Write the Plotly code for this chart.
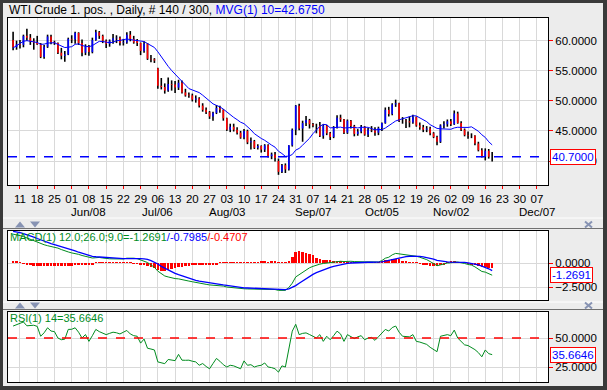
import plotly.graph_objects as go
import pandas as pd

W, H = 607, 390

# ---------------- data ----------------
opens = [60.1, 58.9, 59.4, 59.3, 60.8, 60.5, 59.9, 59.7, 59.4, 57.3,
         59.0, 60.7, 59.7, 59.6, 58.0, 57.5, 57.7, 60.3, 60.2, 61.3,
         59.6, 58.0, 59.1, 58.1, 60.1, 61.4, 60.8, 60.0, 59.5, 60.0,
         60.4, 60.5, 59.6, 59.7, 61.0, 60.3, 60.0, 59.6, 58.3, 59.5,
         57.0, 56.9, 55.4, 52.5, 52.3, 51.7, 52.8, 52.7, 52.2, 53.0,
         51.4, 51.0, 50.9, 50.2, 50.4, 49.2, 48.5, 48.1, 47.4, 48.0,
         48.8, 48.5, 47.1, 45.2, 45.7, 45.2, 44.7, 43.9, 45.0, 43.1,
         43.3, 42.2, 42.5, 41.9, 42.6, 40.8, 41.1, 40.0, 38.2, 39.3,
         38.6, 42.6, 45.2, 49.2, 45.4, 46.3, 46.8, 46.1, 45.9, 45.9,
         44.2, 45.9, 44.6, 44.0, 45.6, 47.2, 46.9, 44.7, 46.7, 45.8,
         44.5, 44.9, 45.7, 44.4, 45.2, 45.1, 44.7, 45.5, 46.3, 48.5,
         47.8, 49.4, 49.6, 46.7, 46.7, 46.6, 46.4, 47.3, 45.9, 45.6,
         45.2, 45.4, 44.6, 44.0, 43.2, 45.9, 46.1, 46.6, 46.1, 47.9,
         46.3, 45.2, 44.3, 44.2, 44.2, 42.9, 41.8, 40.7, 41.7, 40.7]
highs = [61.5, 60.0, 60.1, 61.0, 62.0, 61.1, 60.4, 60.8, 59.6, 59.3,
         61.0, 61.0, 60.0, 59.7, 58.8, 58.3, 60.5, 60.9, 61.5, 61.4,
         60.2, 59.4, 59.3, 60.5, 61.8, 61.6, 61.0, 60.2, 60.2, 61.1,
         60.9, 60.7, 60.3, 61.4, 61.6, 60.8, 60.3, 59.7, 59.9, 59.6,
         57.6, 57.1, 55.5, 53.8, 52.9, 53.9, 53.4, 53.3, 53.5, 53.4,
         52.0, 51.4, 51.2, 50.9, 50.6, 49.6, 48.9, 48.3, 48.2, 49.3,
         49.2, 48.6, 47.2, 46.2, 46.2, 45.6, 45.0, 45.3, 45.2, 43.9,
         43.5, 42.8, 42.6, 42.8, 42.8, 41.4, 41.5, 40.4, 39.5, 39.6,
         42.6, 45.4, 49.3, 49.5, 46.7, 47.5, 47.0, 46.3, 46.2, 46.5,
         46.1, 46.0, 44.8, 45.8, 47.6, 47.7, 47.0, 46.9, 46.8, 46.0,
         45.3, 46.0, 45.8, 45.5, 45.8, 45.6, 45.7, 46.4, 48.9, 49.0,
         49.6, 50.2, 49.7, 47.3, 47.0, 47.4, 47.7, 47.4, 46.4, 46.0,
         45.8, 45.7, 44.8, 44.2, 46.1, 46.6, 46.9, 47.0, 48.4, 48.2,
         46.6, 45.4, 44.9, 44.6, 44.3, 43.2, 42.1, 42.1, 42.0, 41.5]
lows = [58.4, 58.5, 58.7, 58.9, 60.0, 59.3, 58.5, 59.3, 57.1, 57.0,
        58.8, 59.4, 59.3, 57.8, 56.9, 56.5, 57.6, 59.6, 59.5, 59.3,
        57.4, 57.6, 57.5, 57.9, 60.0, 60.3, 59.6, 58.8, 59.0, 59.5,
        59.6, 59.2, 59.2, 59.5, 59.9, 59.5, 59.1, 57.6, 58.0, 56.8,
        56.4, 56.3, 52.0, 51.9, 51.2, 51.5, 51.7, 51.3, 51.8, 51.2,
        50.7, 50.5, 49.9, 49.7, 48.9, 48.2, 47.8, 47.0, 46.7, 47.8,
        48.0, 46.7, 45.0, 44.8, 44.9, 44.4, 43.7, 43.6, 42.8, 41.9,
        42.0, 41.9, 41.4, 41.5, 40.6, 40.3, 39.9, 37.7, 38.0, 38.0,
        38.4, 42.4, 44.3, 45.1, 43.2, 45.8, 45.4, 45.6, 44.6, 44.0,
        43.7, 44.3, 43.5, 43.8, 45.4, 46.5, 44.5, 44.5, 45.4, 44.1,
        44.2, 44.6, 44.2, 44.0, 44.8, 44.2, 44.3, 45.0, 46.2, 47.4,
        47.6, 49.0, 46.5, 46.2, 45.5, 45.6, 46.2, 45.7, 45.2, 44.8,
        44.8, 44.3, 43.8, 42.6, 43.0, 45.4, 45.7, 45.8, 46.0, 46.2,
        45.0, 44.1, 43.7, 43.8, 42.6, 41.6, 40.6, 40.1, 40.4, 39.9]
closes = [58.9, 59.4, 59.3, 60.8, 60.5, 59.9, 59.7, 59.4, 57.3, 59.0,
          60.7, 59.7, 59.6, 58.0, 57.5, 57.7, 60.3, 60.2, 61.3, 59.6,
          58.0, 59.1, 58.1, 60.1, 61.4, 60.8, 60.0, 59.5, 60.0, 60.4,
          60.5, 59.6, 59.7, 61.0, 60.3, 59.7, 59.6, 58.3, 59.5, 57.0,
          56.9, 56.7, 52.5, 52.3, 51.7, 52.8, 52.7, 52.2, 53.0, 51.4,
          50.9, 50.9, 50.2, 50.4, 49.2, 48.5, 48.1, 47.4, 48.0, 48.8,
          48.5, 47.1, 45.2, 45.7, 45.2, 44.7, 43.9, 45.0, 43.1, 43.3,
          42.2, 42.5, 41.9, 42.6, 40.8, 41.1, 40.5, 38.2, 39.3, 38.6,
          42.6, 45.2, 49.2, 45.4, 46.3, 46.8, 46.1, 45.9, 45.9, 44.2,
          45.9, 44.6, 44.0, 45.6, 47.2, 46.9, 44.7, 46.7, 45.8, 44.5,
          44.9, 45.7, 44.4, 45.2, 45.1, 44.7, 45.5, 46.3, 48.5, 47.8,
          49.4, 49.6, 46.7, 46.7, 46.6, 46.4, 47.3, 45.9, 45.6, 45.2,
          45.4, 44.6, 44.0, 43.2, 45.9, 46.1, 46.6, 46.1, 47.9, 46.3,
          45.2, 44.3, 44.2, 44.2, 42.9, 41.8, 40.7, 41.7, 40.7, 40.70]
ma10 = [58.8, 59.2, 59.6, 59.9, 60.0, 59.9, 59.8, 59.7, 59.4, 59.42,
        59.60, 59.63, 59.66, 59.38, 59.08, 58.86, 58.92, 59.00, 59.40, 59.46,
        59.19, 59.13, 58.98, 59.19, 59.58, 59.89, 59.86, 59.79, 59.66, 59.74,
        59.99, 60.04, 60.20, 60.29, 60.18, 60.07, 60.03, 59.91, 59.86, 59.52,
        59.16, 58.87, 58.15, 57.28, 56.42, 55.73, 55.04, 54.43, 53.78, 53.22,
        52.62, 52.04, 51.81, 51.62, 51.37, 50.94, 50.48, 50.00, 49.50, 49.24,
        49.00, 48.62, 48.12, 47.65, 47.25, 46.87, 46.45, 46.21, 45.72, 45.17,
        44.54, 44.08, 43.75, 43.44, 43.00, 42.64, 42.30, 41.62, 41.24, 40.77,
        40.81, 41.08, 41.81, 42.09, 42.64, 43.21, 43.77, 44.54, 45.20, 45.76,
        46.09, 46.03, 45.51, 45.53, 45.62, 45.63, 45.49, 45.57, 45.56, 45.59,
        45.49, 45.60, 45.64, 45.60, 45.39, 45.17, 45.25, 45.21, 45.48, 45.81,
        46.26, 46.65, 46.88, 47.03, 47.18, 47.35, 47.53, 47.49, 47.20, 46.94,
        46.54, 46.04, 45.77, 45.42, 45.35, 45.32, 45.25, 45.27, 45.50, 45.61,
        45.59, 45.56, 45.58, 45.68, 45.38, 44.95, 44.36, 43.92, 43.20, 42.675]
macd = [3.00, 2.95, 2.85, 2.75, 2.60, 2.45, 2.30, 2.15, 2.00, 1.90,
        1.80, 1.72, 1.65, 1.55, 1.40, 1.25, 1.15, 1.05, 1.00, 0.90,
        0.78, 0.68, 0.58, 0.52, 0.55, 0.58, 0.52, 0.46, 0.44, 0.43,
        0.43, 0.42, 0.42, 0.50, 0.52, 0.50, 0.45, 0.32, 0.25, 0.05,
        -0.20, -0.45, -0.85, -1.15, -1.35, -1.45, -1.55, -1.62, -1.65, -1.75,
        -1.82, -1.88, -1.95, -2.00, -2.08, -2.15, -2.22, -2.28, -2.30, -2.30,
        -2.32, -2.40, -2.50, -2.55, -2.60, -2.63, -2.68, -2.68, -2.70, -2.70,
        -2.72, -2.72, -2.72, -2.70, -2.72, -2.74, -2.76, -2.85, -2.85, -2.85,
        -2.55, -2.10, -1.45, -1.20, -0.95, -0.70, -0.50, -0.35, -0.22, -0.12,
        -0.05, 0.00, 0.03, 0.08, 0.15, 0.18, 0.15, 0.18, 0.18, 0.15,
        0.12, 0.15, 0.12, 0.12, 0.10, 0.08, 0.10, 0.25, 0.50, 0.60,
        0.85, 1.00, 0.95, 0.88, 0.82, 0.78, 0.78, 0.70, 0.60, 0.48,
        0.35, 0.15, -0.05, -0.28, -0.20, -0.08, 0.00, 0.02, 0.10, 0.10,
        0.05, -0.05, -0.15, -0.22, -0.40, -0.62, -0.88, -0.95, -1.12, -1.2691]
signal = [3.30, 3.25, 3.15, 3.05, 2.95, 2.85, 2.70, 2.55, 2.40, 2.28,
          2.15, 2.02, 1.92, 1.82, 1.70, 1.58, 1.45, 1.35, 1.25, 1.12,
          1.00, 0.88, 0.78, 0.70, 0.65, 0.62, 0.60, 0.58, 0.55, 0.52,
          0.50, 0.48, 0.46, 0.46, 0.47, 0.47, 0.47, 0.45, 0.43, 0.38,
          0.25, 0.10, -0.10, -0.35, -0.55, -0.75, -0.92, -1.08, -1.22, -1.35,
          -1.48, -1.60, -1.70, -1.80, -1.88, -1.95, -2.02, -2.08, -2.14, -2.18,
          -2.22, -2.28, -2.34, -2.40, -2.45, -2.50, -2.55, -2.58, -2.60, -2.62,
          -2.64, -2.66, -2.68, -2.70, -2.71, -2.72, -2.73, -2.74, -2.75, -2.76,
          -2.70, -2.55, -2.35, -2.10, -1.85, -1.60, -1.38, -1.18, -1.00, -0.85,
          -0.70, -0.58, -0.45, -0.34, -0.25, -0.16, -0.10, -0.04, 0.00, 0.03,
          0.05, 0.06, 0.07, 0.08, 0.08, 0.08, 0.08, 0.12, 0.20, 0.28,
          0.38, 0.50, 0.58, 0.64, 0.67, 0.70, 0.71, 0.70, 0.68, 0.64,
          0.58, 0.50, 0.40, 0.28, 0.20, 0.15, 0.12, 0.10, 0.10, 0.10,
          0.09, 0.06, 0.02, -0.03, -0.10, -0.20, -0.33, -0.45, -0.60, -0.7985]
hist = [0.15, 0.12, 0.10, -0.10, -0.20, -0.25, -0.30, -0.30, -0.32, -0.30,
        -0.30, -0.28, -0.27, -0.27, -0.30, -0.33, -0.30, -0.30, -0.25, -0.22,
        -0.22, -0.20, -0.20, -0.18, 0.08, 0.06, 0.05, 0.06, 0.07, 0.06,
        0.05, 0.06, 0.05, 0.06, 0.05, -0.03, -0.05, -0.13, -0.18, -0.33,
        -0.45, -0.55, -0.75, -0.80, -0.80, -0.70, -0.63, -0.54, -0.43, -0.40,
        -0.34, -0.28, -0.25, -0.20, -0.20, -0.20, -0.20, -0.20, -0.16, -0.12,
        0.06, 0.05, 0.06, 0.07, 0.06, 0.05, 0.06, 0.07, 0.06, 0.05,
        0.08, 0.10, 0.12, 0.12, 0.10, 0.12, 0.12, 0.08, 0.10, 0.05,
        0.20, 0.60, 1.10, 1.20, 1.15, 1.05, 0.90, 0.80, 0.55, 0.40,
        0.35, 0.30, 0.28, 0.25, 0.20, 0.12, 0.10, 0.08, 0.08, 0.07,
        0.07, 0.09, 0.05, 0.04, 0.05, 0.05, 0.05, 0.13, 0.30, 0.32,
        0.40, 0.45, 0.37, 0.24, 0.15, 0.10, 0.07, 0.05, -0.08, -0.16,
        -0.23, -0.28, -0.30, -0.30, -0.25, -0.15, 0.10, 0.12, 0.12, 0.10,
        0.08, 0.05, -0.10, -0.17, -0.25, -0.35, -0.42, -0.45, -0.48, -0.4707]
rsi = [60.3, 61.5, 62.5, 63.8, 60.5, 61.0, 61.0, 60.0, 51.5, 54.5,
       58.8, 56.0, 55.5, 50.0, 48.5, 49.0, 57.4, 57.5, 58.8, 55.0,
       50.0, 53.0, 47.1, 52.0, 57.4, 55.5, 54.4, 52.9, 54.0, 55.0,
       54.5, 53.5, 55.0, 56.5, 53.5, 52.0, 51.5, 45.6, 49.1, 41.2,
       40.5, 39.7, 29.4, 28.5, 27.9, 31.5, 31.0, 30.5, 35.9, 30.9,
       30.8, 30.9, 30.0, 29.4, 26.5, 28.0, 25.5, 23.5, 28.0, 32.4,
       30.0, 27.0, 25.0, 26.5, 26.0, 25.0, 23.5, 30.3, 26.5, 27.0,
       25.0, 26.0, 26.5, 28.5, 25.0, 24.5, 23.5, 20.6, 26.0, 25.0,
       40.0, 55.9, 61.8, 52.9, 54.0, 54.4, 53.0, 51.5, 50.0, 52.9,
       47.1, 51.5, 48.5, 52.0, 55.9, 53.5, 47.1, 52.9, 51.5, 49.5,
       51.0, 52.0, 48.5, 50.0, 50.5, 48.0, 51.0, 54.4, 57.4, 56.0,
       59.0, 60.3, 55.0, 51.5, 51.5, 51.0, 52.9, 47.1, 46.5, 45.5,
       44.5, 42.0, 39.7, 38.2, 51.5, 52.5, 52.9, 52.0, 56.8, 50.0,
       47.1, 44.1, 43.5, 42.0, 40.0, 37.4, 33.8, 39.7, 36.5, 35.6646]

first_day = "2015-05-07"
last_axis_day = "2015-12-11"
month_dates = ["2015-06-08", "2015-07-06", "2015-08-03", "2015-09-07",
               "2015-10-05", "2015-11-02", "2015-12-07"]
month_labels = ["Jun/08", "Jul/06", "Aug/03", "Sep/07", "Oct/05", "Nov/02", "Dec/07"]
rsi_level = 50

# ---------------- helpers ----------------
FONT = "Liberation Sans, Arial, sans-serif"
GRID = "#d9d9d9"
RED = "#ff0000"
BLUE = "#0000ff"
GREEN = "#008c1e"
BG = "#ececec"


def px(x):
    return x / W


def py(y):
    return 1 - y / H


n = len(closes)
idx = list(range(n))
slots = pd.bdate_range(first_day, last_axis_day)
slot_of = {d.strftime("%Y-%m-%d"): k for k, d in enumerate(slots)}
mondays = [(k, d) for k, d in enumerate(slots) if d.weekday() == 0]
tickvals = [k for k, d in mondays]
ticktext = [d.strftime("%d") for k, d in mondays]

XR = [-1.48, 155.2]
XD = [px(8), px(548)]

# candlestick-like bars built as line segments
wx, wy, ux, uy, dx, dy = [], [], [], [], [], []
for i in idx:
    wx += [i, i, None]
    wy += [lows[i], highs[i], None]
    if closes[i] > opens[i]:
        ux += [i, i, None]
        uy += [opens[i], closes[i], None]
    elif closes[i] < opens[i]:
        dx += [i, i, None]
        dy += [opens[i], closes[i], None]

fig = go.Figure()
fig.add_trace(go.Scatter(x=wx, y=wy, mode="lines", line=dict(color="#000000", width=1.6),
                         hoverinfo="skip", xaxis="x", yaxis="y"))
fig.add_trace(go.Scatter(x=ux, y=uy, mode="lines", line=dict(color=BLUE, width=1.6),
                         hoverinfo="skip", xaxis="x", yaxis="y"))
fig.add_trace(go.Scatter(x=dx, y=dy, mode="lines", line=dict(color=RED, width=1.6),
                         hoverinfo="skip", xaxis="x", yaxis="y"))
fig.add_trace(go.Scatter(x=idx, y=ma10, mode="lines", line=dict(color=BLUE, width=1),
                         hoverinfo="skip", xaxis="x", yaxis="y"))

fig.add_trace(go.Bar(x=idx, y=hist, marker=dict(color=RED, line=dict(width=0)), width=0.75,
                     hoverinfo="skip", xaxis="x2", yaxis="y2"))
fig.add_trace(go.Scatter(x=idx, y=macd, mode="lines", line=dict(color=GREEN, width=1),
                         hoverinfo="skip", xaxis="x2", yaxis="y2"))
fig.add_trace(go.Scatter(x=idx, y=signal, mode="lines", line=dict(color=BLUE, width=1.3),
                         hoverinfo="skip", xaxis="x2", yaxis="y2"))

fig.add_trace(go.Scatter(x=idx, y=rsi, mode="lines", line=dict(color=GREEN, width=1),
                         hoverinfo="skip", xaxis="x3", yaxis="y3"))

xcommon = dict(range=XR, domain=XD, tickvals=tickvals, showgrid=True, gridcolor=GRID, gridwidth=1,
               showline=True, linecolor="#000000", linewidth=1, mirror=True, zeroline=False,
               fixedrange=True)
ycommon = dict(side="right", showgrid=True, gridcolor=GRID, gridwidth=1, zeroline=False,
               showline=True, linecolor="#000000", linewidth=1, mirror=True,
               ticks="outside", ticklen=4, tickcolor=RED, tickwidth=1,
               tickformat=".4f", tickfont=dict(family=FONT, size=11.5, color="#000000"),
               fixedrange=True)

fig.update_layout(
    width=W, height=H, autosize=False,
    margin=dict(l=0, r=0, t=0, b=0, pad=0),
    paper_bgcolor=BG, plot_bgcolor="#ffffff",
    showlegend=False, bargap=0,
    font=dict(family=FONT, size=12, color="#000000"),
    xaxis=dict(xcommon, anchor="y", ticktext=ticktext, ticks="outside", ticklen=3,
               tickcolor=RED, tickfont=dict(family=FONT, size=11.5, color="#000000")),
    xaxis2=dict(xcommon, anchor="y2", showticklabels=False, ticks=""),
    xaxis3=dict(xcommon, anchor="y3", showticklabels=False, ticks=""),
    yaxis=dict(ycommon, anchor="x", domain=[py(185), py(18)], range=[36.01, 63.77],
               tickvals=[40, 45, 50, 55, 60]),
    yaxis2=dict(ycommon, anchor="x2", domain=[py(300), py(231)], range=[-3.85, 3.33],
                tickvals=[-2.5, 0]),
    yaxis3=dict(ycommon, anchor="x3", domain=[py(382), py(312)], range=[12.1, 72.4],
                tickvals=[25, 50]),
)

shapes = []
shapes.append(dict(type="line", xref="x domain", yref="y", x0=0, x1=1, y0=closes[-1], y1=closes[-1],
                   line=dict(color=BLUE, width=1.5, dash="dash")))
shapes.append(dict(type="line", xref="x3 domain", yref="y3", x0=0, x1=1, y0=rsi_level, y1=rsi_level,
                   line=dict(color=RED, width=1.5, dash="dash")))
dark = "#3a3a3a"
shapes += [
    dict(type="rect", xref="paper", yref="paper", x0=0, x1=px(3), y0=0, y1=1, fillcolor=dark, line_width=0, layer="above"),
    dict(type="rect", xref="paper", yref="paper", x0=px(603), x1=1, y0=0, y1=1, fillcolor=dark, line_width=0, layer="above"),
    dict(type="rect", xref="paper", yref="paper", x0=0, x1=1, y0=py(3), y1=1, fillcolor=dark, line_width=0, layer="above"),
    dict(type="rect", xref="paper", yref="paper", x0=0, x1=1, y0=0, y1=py(386), fillcolor=dark, line_width=0, layer="above"),
]
for ys in (218, 302):
    shapes.append(dict(type="line", xref="paper", yref="paper", x0=px(3), x1=px(603), y0=py(ys), y1=py(ys),
                       line=dict(color="#ffffff", width=1)))
for ys in (228.5, 309.5):
    shapes.append(dict(type="line", xref="paper", yref="paper", x0=px(3), x1=px(603), y0=py(ys), y1=py(ys),
                       line=dict(color="#707070", width=1)))
tri_col = "#8793b3"
for yc in (224.5, 305.5):
    shapes.append(dict(type="path", xref="paper", yref="paper",
                       path=f"M {px(15)},{py(yc + 3)} L {px(25)},{py(yc + 3)} L {px(20)},{py(yc - 3)} Z",
                       fillcolor=tri_col, line_width=0))
    shapes.append(dict(type="path", xref="paper", yref="paper",
                       path=f"M {px(30)},{py(yc - 3)} L {px(40)},{py(yc - 3)} L {px(35)},{py(yc + 3)} Z",
                       fillcolor=tri_col, line_width=0))
    shapes.append(dict(type="line", xref="paper", yref="paper", x0=px(585), x1=px(592), y0=py(yc - 3), y1=py(yc + 3),
                       line=dict(color=tri_col, width=2)))
    shapes.append(dict(type="line", xref="paper", yref="paper", x0=px(585), x1=px(592), y0=py(yc + 3), y1=py(yc - 3),
                       line=dict(color=tri_col, width=2)))
fig.update_layout(shapes=shapes)

ann = []
ann.append(dict(xref="paper", yref="paper", x=px(7), y=py(9.5), xanchor="left", yanchor="middle",
                showarrow=False, font=dict(family=FONT, size=12, color="#000000"),
                text=f"WTI Crude 1. pos. , Daily, # {n} / 300, "
                     f"<span style='color:{BLUE}'>MVG(1) 10={ma10[-1]:.4f}</span>"))
ann.append(dict(xref="paper", yref="paper", x=px(8), y=py(237), xanchor="left", yanchor="middle",
                showarrow=False, font=dict(family=FONT, size=11, color=GREEN),
                text=f"MACD(1) 12.0;26.0;9.0={macd[-1]:.4f}"
                     f"<span style='color:{BLUE}'>/{signal[-1]:.4f}</span>"
                     f"<span style='color:{RED}'>/{hist[-1]:.4f}</span>"))
ann.append(dict(xref="paper", yref="paper", x=px(8), y=py(318), xanchor="left", yanchor="middle",
                showarrow=False, font=dict(family=FONT, size=11, color=GREEN),
                text=f"RSI(1) 14={rsi[-1]:.4f}"))
for yr, val in (("y", closes[-1]), ("y2", macd[-1]), ("y3", rsi[-1])):
    ann.append(dict(xref="paper", yref=yr, x=px(550), y=val, xanchor="left", yanchor="middle",
                    showarrow=False, text=f"{val:.4f}", font=dict(family=FONT, size=11.5, color=BLUE),
                    bgcolor="#ffffff", bordercolor=RED, borderwidth=1, borderpad=1))
for dstr, lab in zip(month_dates, month_labels):
    ann.append(dict(xref="x", yref="paper", x=slot_of[dstr], y=py(212), xanchor="center", yanchor="middle",
                    showarrow=False, text=lab, font=dict(family=FONT, size=11.5, color="#000000")))
fig.update_layout(annotations=ann)

fig.write_html("out.html", config={"displayModeBar": False},
               post_script="document.body.style.margin='0';document.body.style.overflow='hidden';")
